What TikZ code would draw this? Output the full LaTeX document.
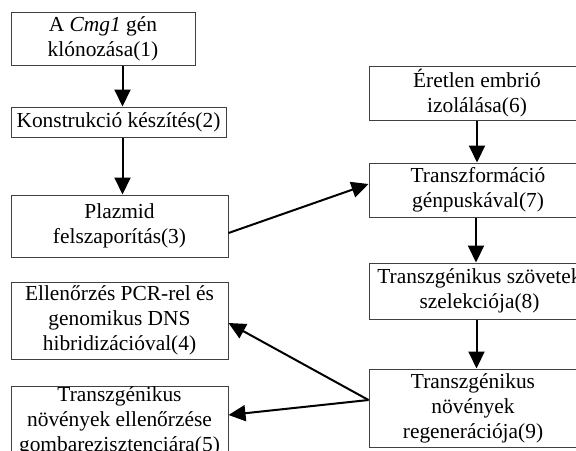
\documentclass[tikz,border=0pt]{standalone}
\usepackage{fontspec}
\setmainfont{Liberation Serif}
\usepackage{tikz}
\usetikzlibrary{arrows.meta,positioning}
\newcommand{\boxfont}{\fontsize{10.7}{12.5}\selectfont}

\begin{document}
\begin{tikzpicture}[x=0.5pt, y=-0.5pt, every node/.style={font=\boxfont},
    stepbox/.style={draw=black!75, line width=0.5pt, inner sep=0pt, align=center},
    arr/.style={-{Triangle[length=8.5pt, width=8pt]}, line width=1pt}]
    \path[use as bounding box, clip] (0,0) rectangle (576,450);

    % Left column
    \node[stepbox, minimum width=92pt, minimum height=26.5pt] (klon) at (103,38.5)
        {A \textit{Cmg1} gén\\klónozása(1)};
    \node[stepbox, minimum width=107.5pt, minimum height=15pt] (konstr) at (118.5,122)
        {Konstrukció készítés(2)};
    \node[stepbox, minimum width=108.5pt, minimum height=31pt] (plazmid) at (119.5,226)
        {Plazmid\\felszaporítás(3)};
    \node[stepbox, minimum width=108.5pt, minimum height=38.5pt] (ellen) at (119.5,320.5)
        {Ellenőrzés PCR-rel és\\genomikus DNS\\hibridizációval(4)};
    \node[stepbox, minimum width=108.5pt, minimum height=35.5pt] (gomba) at (119.5,421.5)
        {Transzgénikus\\növények ellenőrzése\\gombarezisztenciára(5)};

    % Right column
    \node[stepbox, minimum width=108pt, minimum height=27pt] (embrio) at (477,93)
        {Éretlen embrió\\izolálása(6)};
    \node[stepbox, minimum width=109pt, minimum height=27pt] (transzf) at (478,190)
        {Transzformáció\\génpuskával(7)};
    \node[stepbox, minimum width=110.5pt, minimum height=28pt] (szovet) at (479.5,291)
        {Transzgénikus szövetek\\szelekciója(8)};
    \node[stepbox, minimum width=104pt, minimum height=39pt] (regen) at (473,408)
        {Transzgénikus\\növények\\regenerációja(9)};

    % Connectors
    \draw[arr] ([xshift=2pt]konstr.north |- klon.south) -- ([xshift=2pt]konstr.north);
    \draw[arr] ([xshift=2pt]konstr.south) -- ([xshift=2pt]konstr.south |- plazmid.north);
    \draw[arr] ([yshift=-3.5pt]plazmid.east) -- ([yshift=3pt]transzf.west);
    \draw[arr] (embrio.south) -- (embrio.south |- transzf.north);
    \draw[arr] ([xshift=-1pt]transzf.south) -- ([xshift=-1pt]transzf.south |- szovet.north);
    \draw[arr] ([xshift=-1.5pt]szovet.south) -- ([xshift=-1.5pt]szovet.south |- regen.north);
    \coordinate (split) at ([yshift=4pt]regen.west);
    \draw[arr] (split) -- ([yshift=-1.25pt]ellen.east);
    \draw[arr] (split) -- ([yshift=3.25pt]gomba.east);
\end{tikzpicture}
\end{document}
